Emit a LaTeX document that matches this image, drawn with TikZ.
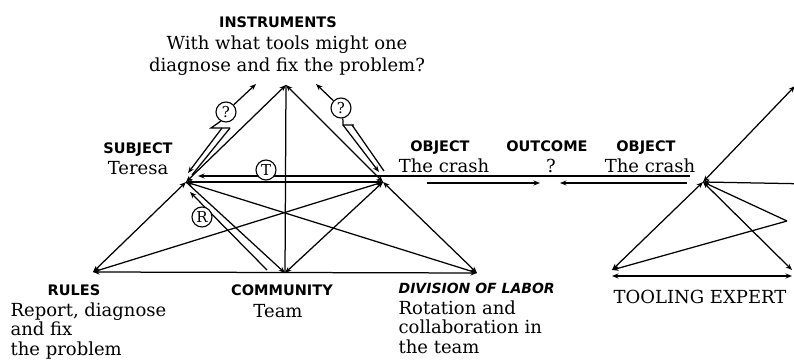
\documentclass[tikz,border=0pt]{standalone}
\usepackage{fontspec}
\setmainfont{DejaVu Serif}
\setsansfont{DejaVu Sans}
\usetikzlibrary{arrows.meta}

\begin{document}
\begin{tikzpicture}[x=1pt, y=-1pt, line width=1.25pt,
    >={Stealth[length=6.5pt, width=5pt]},
    head/.style={font=\sffamily\bfseries\fontsize{14.5}{14.5}\selectfont, anchor=base, inner sep=0pt},
    headit/.style={font=\sffamily\bfseries\itshape\fontsize{14}{14}\selectfont, anchor=base west, inner sep=0pt},
    body/.style={font=\fontsize{18}{19.5}\selectfont, anchor=base, inner sep=0pt},
    block/.style={body, anchor=base west, align=left},
    badge/.style={circle, draw, fill=white, inner sep=0pt, minimum size=20pt, line width=1.1pt, font=\fontsize{15}{15}\selectfont}]
    \useasboundingbox (0,0) rectangle (794,363);
    \clip (0,0) rectangle (794,363);

    % left triangle corners
    \coordinate (ins) at (286,85);
    \coordinate (sub) at (186,182);
    \coordinate (obj) at (383,182);
    \coordinate (rul) at (93,272);
    \coordinate (com) at (285,273);
    \coordinate (div) at (477,273);

    \draw [<->] (sub) -- (ins);
    \draw [<->] (ins) -- (obj);
    \draw (ins) -- (com);
    \draw [<->] (sub) -- (obj);
    \draw [<->] (sub) -- (rul);
    \draw [->] (sub) -- (com);
    \draw [<->] (sub) -- (div);
    \draw [<->] (obj) -- (rul);
    \draw [<->] (obj) -- (com);
    \draw [<->] (obj) -- (div);
    \draw [<->] (rul) -- (div);

    % tension line and crash line
    \coordinate (tA) at (198,176);
    \coordinate (tB) at (690,176);
    \draw [<-] (tA) -- (tB);
    \node [badge] (tMark) at (266,170) {T};

    % rule line
    \coordinate (rA) at (190,192);
    \coordinate (rB) at (267,270);
    \draw [<-] (rA) -- (rB);
    \node [badge] (rMark) at (202,217) {R};

    % question bubbles
    \node [badge] (qL) at (226,112) {?};
    \coordinate (qLtop) at (256,84);
    \draw [<-] (qLtop) -- (qL);
    \draw [line join=miter] (qL.240) -- (211,128) -- (230,128);
    \draw [->] (222,128) -- (188,173);
    \draw (230,128) -- (192,175);

    \node [badge] (qR) at (341,108) {?};
    \coordinate (qRtop) at (316,84);
    \draw [<-] (qRtop) -- (qR);
    \draw [line join=miter] (qR.280) -- (343,125) -- (354,125);
    \draw [->] (343,125) -- (379,172);
    \draw (352,125) -- (384,171);

    % outcome
    \coordinate (oa) at (427,183);
    \coordinate (ob) at (540,183);
    \coordinate (oc) at (560,183);
    \coordinate (od) at (687,183);
    \draw [->] (oa) -- (ob);
    \draw [->] (od) -- (oc);

    % second triangle, cut by the edge
    \coordinate (obj2) at (703,182);
    \coordinate (ins2) at (795,86);
    \coordinate (eas2) at (812,184);
    \coordinate (tl2) at (612,270);
    \coordinate (br2) at (792,270);
    \coordinate (pk2) at (787,221);
    \draw [<->] (obj2) -- (ins2);
    \draw [<-] (obj2) -- (eas2);
    \draw [<->] (obj2) -- (tl2);
    \draw [<->] (obj2) -- (br2);
    \draw [->] (pk2) -- (obj2);
    \draw [->] (pk2) -- (tl2);
    \draw [<->] ([yshift=-6pt]tl2) -- ([yshift=-6pt]br2);

    % labels
    \node [head] (insH) at (278,28) {INSTRUMENTS};
    \node [body, align=center, font=\fontsize{18}{22}\selectfont] (insT) at (287,72) {With what tools might one\\diagnose and fix the problem?};
    \node [head] (subH) at (138,154) {SUBJECT};
    \node [body] (subT) at (138,175) {Teresa};
    \node [head] (objH) at (440,152) {OBJECT};
    \node [body] (objT) at (444,173) {The crash};
    \node [head] (outH) at (547,152) {OUTCOME};
    \node [body] (outT) at (551,173) {?};
    \node [head] (objH2) at (646,152) {OBJECT};
    \node [body] (objT2) at (650,173) {The crash};
    \node [head] (rulH) at (74,295) {RULES};
    \node [block] (rulT) at (10,355) {Report, diagnose\\and fix\\the problem};
    \node [head] (comH) at (282,295) {COMMUNITY};
    \node [body] (comT) at (278,317) {Team};
    \node [headit] (divH) at (398,293) {DIVISION OF LABOR};
    \node [block] (divT) at (398,353) {Rotation and\\collaboration in\\the team};
    \node [body] (expT) at (700,303) {TOOLING EXPERT};
\end{tikzpicture}
\end{document}
